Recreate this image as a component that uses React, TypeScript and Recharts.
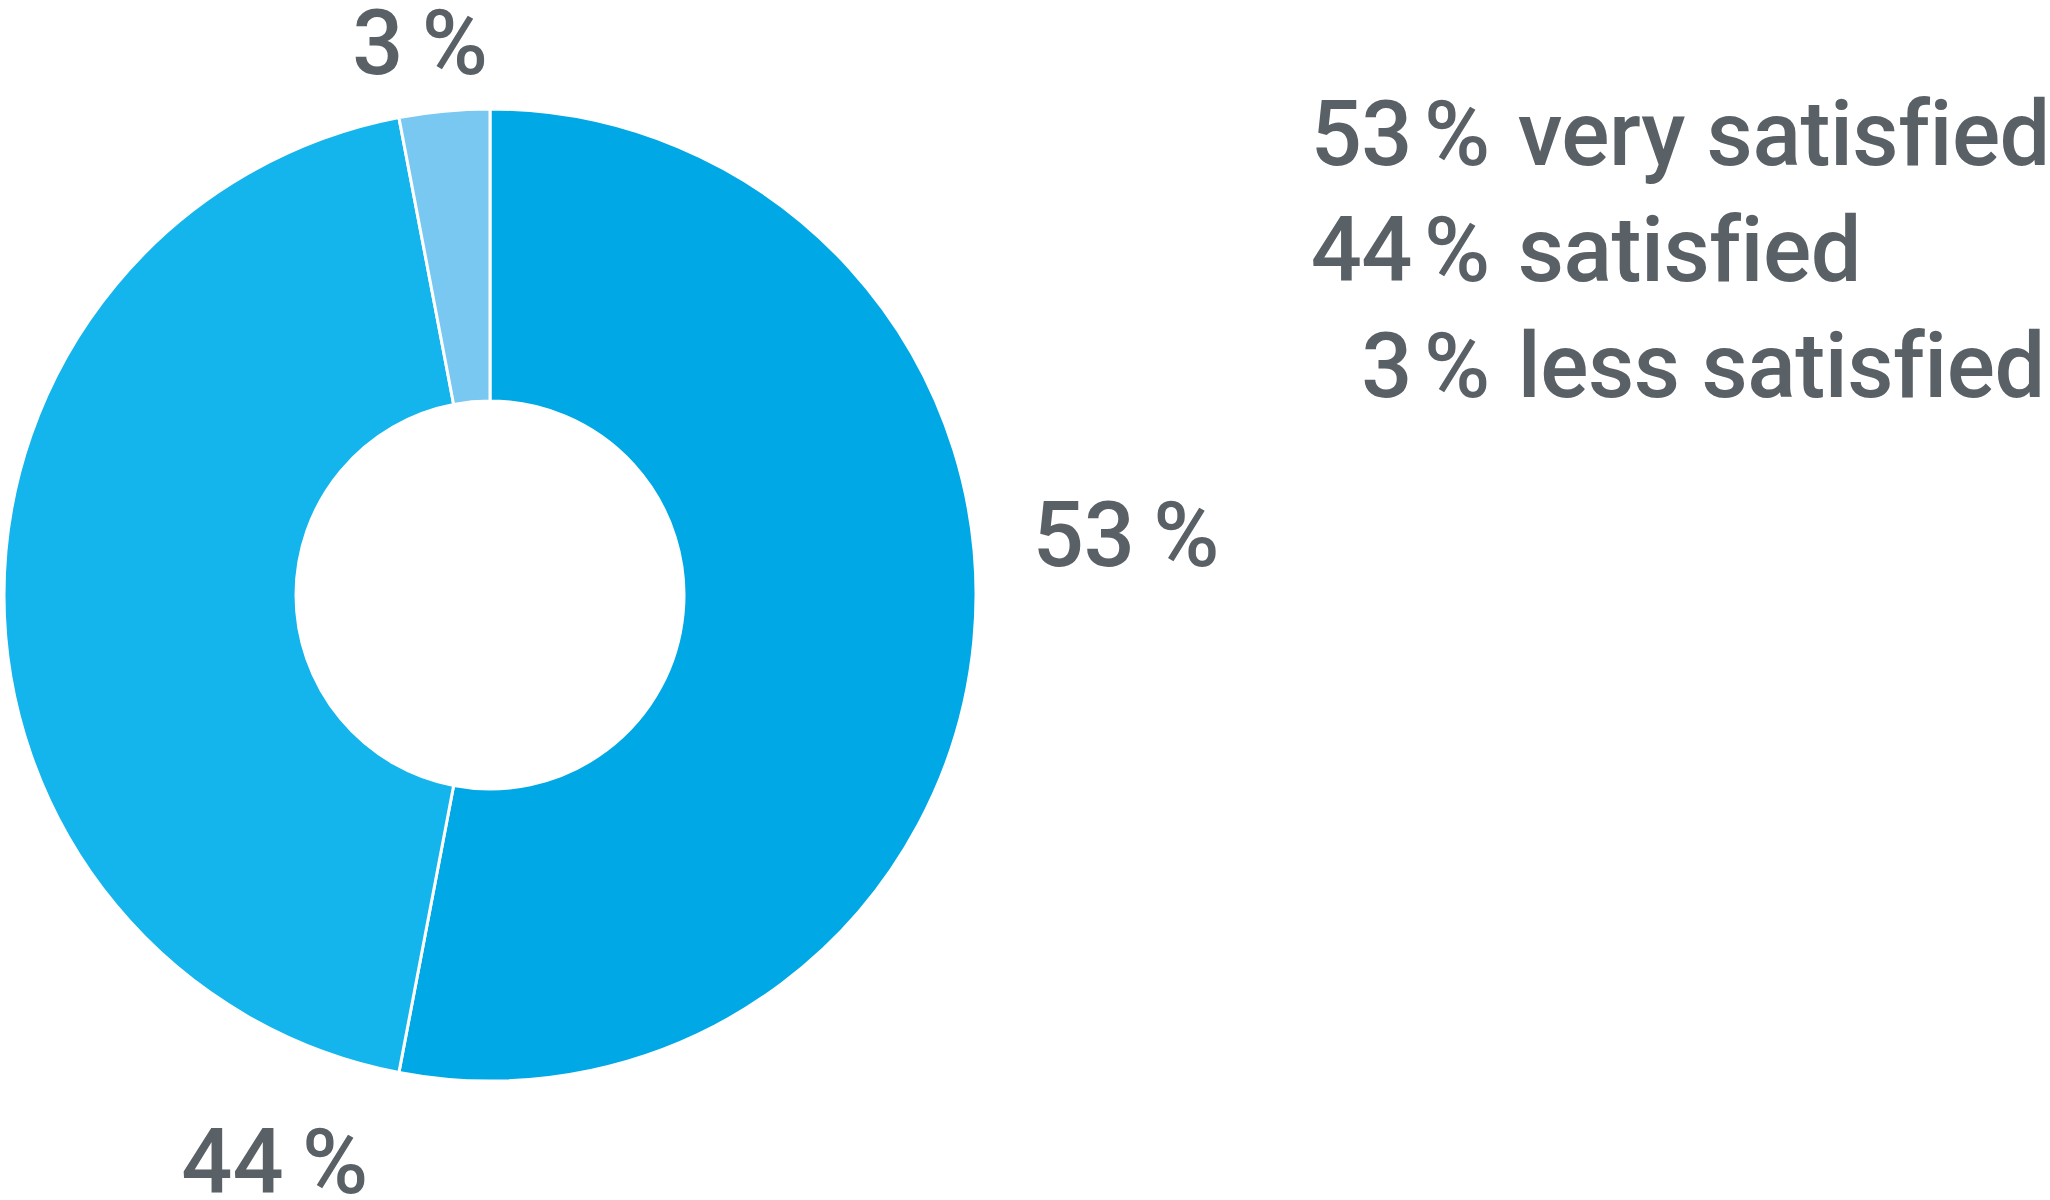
import React from 'react';
import { PieChart, Pie, Cell, Legend } from 'recharts';

const categories = ['very satisfied', 'satisfied', 'less satisfied'];
const shares = [53, 44, 3];
const colors = ['#00a8e6', '#14b4ec', '#78c8f2'];

// hand-placed value labels: angle clockwise from 12 o'clock, distance as a multiple of outer radius
const labelAngles = [84.5, 200.8, 352.8];
const labelDistances = [1.315, 1.247, 1.147];

const TEXT = '#5a6166';
const FONT = 'Roboto, "Noto Sans", sans-serif';

const data = categories.map((name, i) => ({ name, value: shares[i] }));

const renderLabel = (props: any) => {
  const { cx, cy, outerRadius, index } = props;
  const a = (labelAngles[index] * Math.PI) / 180;
  const r = outerRadius * labelDistances[index];
  const x = cx + r * Math.sin(a);
  const y = cy - r * Math.cos(a);
  return (
    <text x={x} y={y} dy="0.355em" textAnchor="middle" fill={TEXT} fontSize={90} fontWeight={500} fontFamily={FONT}>
      {`${shares[index]}\u2009%`}
    </text>
  );
};

const LegendTable = () => (
  <div
    style={{
      fontFamily: FONT,
      fontSize: 90,
      fontWeight: 500,
      lineHeight: '116px',
      color: TEXT,
      fontVariantLigatures: 'none',
      letterSpacing: -0.5,
    }}
  >
    {categories.map((c, i) => (
      <div key={c} style={{ display: 'flex', whiteSpace: 'nowrap' }}>
        <span style={{ width: 102, textAlign: 'right' }}>{shares[i]}</span>
        <span style={{ marginLeft: 12 }}>%</span>
        <span style={{ marginLeft: 28 }}>{c}</span>
      </div>
    ))}
  </div>
);

export default function App() {
  return (
    <div style={{ position: 'absolute', left: 0, top: 0, width: 2050, height: 1200, background: '#fff' }}>
      <PieChart width={2050} height={1200} margin={{ top: 0, right: 0, bottom: 0, left: 0 }}>
        <Pie
          data={data}
          dataKey="value"
          nameKey="name"
          cx={490}
          cy={595}
          outerRadius={486}
          innerRadius={194}
          startAngle={90}
          endAngle={-270}
          stroke="#ffffff"
          strokeWidth={3}
          label={renderLabel}
          labelLine={false}
          isAnimationActive={false}
        >
          {data.map((d, i) => (
            <Cell key={d.name} fill={colors[i]} />
          ))}
        </Pie>
        <Legend
          layout="vertical"
          align="right"
          verticalAlign="top"
          content={() => <LegendTable />}
          wrapperStyle={{ position: 'absolute', top: 77, left: 1310, width: 'auto', right: 'auto' }}
        />
      </PieChart>
    </div>
  );
}
